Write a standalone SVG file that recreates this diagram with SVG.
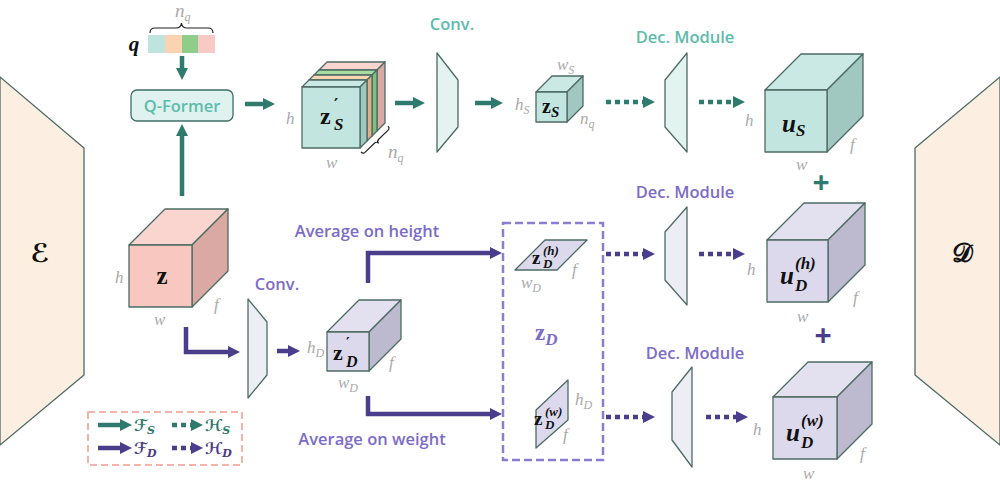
<svg xmlns="http://www.w3.org/2000/svg" width="1000" height="482" viewBox="0 0 1000 482">
<defs>
<marker id="ht" markerUnits="userSpaceOnUse" markerWidth="12" markerHeight="12" refX="2" refY="6" orient="auto"><path d="M0,0 L12,6 L0,12 z" fill="#2f7a6e"/></marker>
<marker id="hp" markerUnits="userSpaceOnUse" markerWidth="12" markerHeight="12" refX="2" refY="6" orient="auto"><path d="M0,0 L12,6 L0,12 z" fill="#4a3d8c"/></marker>
</defs>
<style>
.ts{stroke:#2f7a6e;stroke-width:4.5;fill:none;marker-end:url(#ht)}
.td{stroke:#2f7a6e;stroke-width:4.5;fill:none;stroke-dasharray:5 4;marker-end:url(#ht)}
.ps{stroke:#4a3d8c;stroke-width:4.5;fill:none;marker-end:url(#hp)}
.pd{stroke:#4a3d8c;stroke-width:4.5;fill:none;stroke-dasharray:5 4;marker-end:url(#hp)}
.edge{stroke:#4d6b63;stroke-width:1.3;stroke-linejoin:round}
.tmod{fill:#e3f3f0}
.pmod{fill:#ededf5}
.coder{fill:#fdeee2}
.tf{fill:#c2e5e0}.tt{fill:#cae9e4}.tr{fill:#a0c8c0}
.pf{fill:#dcd9ec}.pt{fill:#e3e1f0}.pr{fill:#bdbacf}
.kf{fill:#f8c8c0}.kt{fill:#fad4ce}.kr{fill:#dba9a3}
.gl{font-family:"Liberation Serif",serif;font-style:italic;fill:#aaaaaa;font-size:17px}
.gs{font-size:12px}
.mth{font-family:"Liberation Serif",serif;font-weight:bold;fill:#111}
.pr1{font-family:"DejaVu Sans",sans-serif;font-weight:bold;fill:#111}
.lt{font-family:"Open Sans",sans-serif;font-weight:600;font-size:16.5px;fill:#5dbcac;text-anchor:middle}
.lp{font-family:"Open Sans",sans-serif;font-weight:600;font-size:16.5px;fill:#7b6cc8;text-anchor:middle}
.scr{font-family:"DejaVu Serif","DejaVu Sans",serif;font-style:italic;font-weight:bold;font-size:16px}
</style>

<g id="encoder">
<polygon class="coder edge" points="0,77 84,148 84,375 0,445"/>
<text x="40" y="262" class="scr" style="font-size:26px;font-style:normal" text-anchor="middle" fill="#111">ℰ</text>
</g>
<g id="decoder">
<polygon class="coder edge" points="1000,77 915,148 915,375 1000,445"/>
<text x="962" y="262" class="scr" style="font-size:26px;font-style:normal" text-anchor="middle" fill="#111">𝒟</text>
</g>

<g id="query">
<text x="134" y="51" class="mth" style="font-style:italic;font-size:21px" text-anchor="middle">q</text>
<rect x="148" y="35" width="17" height="18" fill="#bfe3de"/>
<rect x="165" y="35" width="17" height="18" fill="#fbd3b0"/>
<rect x="182" y="35" width="16" height="18" fill="#8fce8a"/>
<rect x="198" y="35" width="17" height="18" fill="#f9c9c6"/>
<path d="M150,33 Q150,28 155,28 L176,28 Q181,28 181.5,23 Q182,28 187,28 L208,28 Q213,28 213,33" fill="none" stroke="#222" stroke-width="1.2"/>
<text x="175" y="17" class="gl" style="font-size:19px">n<tspan class="gs" dy="4">q</tspan></text>
</g>

<g id="qformer">
<rect x="131" y="90" width="102" height="31" rx="6" fill="#e0f2ef" stroke="#3f6e66" stroke-width="1.3"/>
<text x="182" y="111.5" class="lt">Q-Former</text>
</g>

<g id="zS_prime">
<g class="edge">
<polygon class="kt" points="319,70 327,62 385,62 377,70"/><polygon class="kr" points="377,70 385,62 385,123 377,131"/>
<polygon fill="#a8dca2" points="314,75 319,70 377,70 372,75"/><polygon fill="#7fc07a" points="372,75 377,70 377,131 372,136"/>
<polygon fill="#f8d5b2" points="309,80 314,75 372,75 367,80"/><polygon fill="#ddb18b" points="367,80 372,75 372,136 367,141"/>
<polygon class="tt" points="302,87 309,80 367,80 360,87"/><polygon class="tr" points="360,87 367,80 367,141 360,148"/>
<rect class="tf" x="302" y="87" width="58" height="61"/>
</g>
<text x="320" y="124" class="mth" style="font-size:24px">z</text>
<text x="334" y="110" class="pr1" style="font-size:16px">′</text>
<text x="334" y="130" class="mth" style="font-size:17px;font-style:italic">S</text>
<text x="286" y="124" class="gl">h</text>
<text x="326" y="168" class="gl">w</text>
<path d="M361,152 Q363.1,154.2 365.2,152.1 L374.4,143.3 Q376.6,141.2 378.6,143.4 Q376.6,141.2 378.7,139.2 L387.9,130.4 Q390.1,128.3 388,126.1" fill="none" stroke="#222" stroke-width="1.2"/>
<text x="388" y="158" class="gl" style="font-size:19px">n<tspan class="gs" dy="4">q</tspan></text>
</g>

<g id="conv_top">
<polygon class="tmod edge" points="437,53 458,80 458,127 437,152"/>
<text x="452" y="30" class="lt">Conv.</text>
</g>

<g id="zS">
<g class="edge">
<polygon class="tt" points="536,92 552,76 583,76 567,92"/><polygon class="tr" points="567,92 583,76 583,106 567,122"/>
<rect class="tf" x="536" y="92" width="31" height="30"/>
</g>
<text x="542" y="113" class="mth" style="font-size:20px">z<tspan font-size="15" font-style="italic" dy="4">S</tspan></text>
<text x="515" y="110" class="gl">h<tspan class="gs" dy="4">S</tspan></text>
<text x="557" y="70" class="gl">w<tspan class="gs" dy="4">S</tspan></text>
<text x="580" y="124" class="gl">n<tspan class="gs" dy="4">q</tspan></text>
</g>

<g id="dec_top">
<polygon class="tmod edge" points="665,80 687,53 687,152 665,127"/>
<text x="685" y="43" class="lt">Dec. Module</text>
</g>

<g id="uS">
<g class="edge">
<polygon class="tt" points="765,90 801,54 863,54 827,90"/><polygon class="tr" points="827,90 863,54 863,116 827,152"/>
<rect class="tf" x="765" y="90" width="62" height="62"/>
</g>
<text x="782" y="132" class="mth" style="font-size:25px;font-style:italic">u<tspan font-size="17" dy="4">S</tspan></text>
<text x="745" y="126" class="gl">h</text>
<text x="796" y="170" class="gl">w</text>
<text x="850" y="150" class="gl">f</text>
</g>

<g id="plus1"><text x="821" y="193" text-anchor="middle" font-family="Open Sans,sans-serif" font-weight="700" font-size="30" fill="#2f7a6e">+</text></g>

<g id="z">
<g class="edge">
<polygon class="kt" points="129,245 165,209 228,209 192,245"/><polygon class="kr" points="192,245 228,209 228,271 192,307"/>
<rect class="kf" x="129" y="245" width="63" height="62"/>
</g>
<text x="162" y="284" class="mth" style="font-size:25px" text-anchor="middle">z</text>
<text x="115" y="283" class="gl">h</text>
<text x="154" y="325" class="gl">w</text>
<text x="214" y="310" class="gl">f</text>
</g>

<g id="conv_bottom">
<polygon class="pmod edge" points="248,299 267,322 267,375 248,398"/>
<text x="277" y="290" class="lp">Conv.</text>
</g>

<g id="zD_prime">
<g class="edge">
<polygon class="pt" points="327,332 359,300 401,300 369,332"/><polygon class="pr" points="369,332 401,300 401,339 369,371"/>
<rect class="pf" x="327" y="332" width="42" height="39"/>
</g>
<text x="333" y="360" class="mth" style="font-size:22px">z</text>
<text x="346" y="347" class="pr1" style="font-size:14px">′</text>
<text x="346" y="367" class="mth" style="font-size:16px;font-style:italic">D</text>
<text x="307" y="353" class="gl">h<tspan class="gs" dy="4">D</tspan></text>
<text x="338" y="388" class="gl">w<tspan class="gs" dy="4">D</tspan></text>
<text x="389" y="368" class="gl">f</text>
</g>

<text x="367" y="237" class="lp">Average on height</text>
<text x="372" y="445" class="lp">Average on weight</text>

<g id="zD">
<rect x="503" y="223" width="100" height="237" fill="none" stroke="#8c7dd0" stroke-width="2.5" stroke-dasharray="8 4"/>
<text x="535" y="340" font-family="Liberation Serif,serif" font-weight="bold" font-size="23" fill="#7b6cc8">z<tspan font-size="17" font-style="italic" dy="5">D</tspan></text>
</g>

<g id="zD_h">
<polygon class="pf edge" points="515,270 557,270 587,240 545,240"/>
<text x="532" y="264" class="mth" style="font-size:19px">z</text>
<text x="543" y="268" class="mth" style="font-size:13px;font-style:italic">D</text>
<text x="543" y="255" class="mth" style="font-size:13px;font-style:italic">(h)</text>
<text x="521" y="288" class="gl">w<tspan class="gs" dy="4">D</tspan></text>
<text x="572" y="275" class="gl">f</text>
</g>

<g id="zD_w">
<polygon class="pf edge" points="536,410 568,380 568,420 536,448"/>
<text x="534" y="425" class="mth" style="font-size:19px">z</text>
<text x="545" y="429" class="mth" style="font-size:13px;font-style:italic">D</text>
<text x="545" y="416" class="mth" style="font-size:13px;font-style:italic">(w)</text>
<text x="575" y="405" class="gl">h<tspan class="gs" dy="4">D</tspan></text>
<text x="563" y="440" class="gl">f</text>
</g>

<g id="dec_mid">
<polygon class="pmod edge" points="665,232 687,207 687,305 665,280"/>
<text x="685" y="198" class="lp">Dec. Module</text>
</g>

<g id="dec_bottom">
<polygon class="pmod edge" points="672,392 692,367 692,467 672,440"/>
<text x="695" y="359" class="lp">Dec. Module</text>
</g>

<g id="uD_h">
<g class="edge">
<polygon class="pt" points="767,240 804,203 865,203 828,240"/><polygon class="pr" points="828,240 865,203 865,265 828,302"/>
<rect class="pf" x="767" y="240" width="61" height="62"/>
</g>
<text x="780" y="284" class="mth" style="font-size:25px;font-style:italic">u</text>
<text x="795" y="291" class="mth" style="font-size:17px;font-style:italic">D</text>
<text x="795" y="269" class="mth" style="font-size:17px;font-style:italic">(h)</text>
<text x="747" y="275" class="gl">h</text>
<text x="797" y="322" class="gl">w</text>
<text x="853" y="303" class="gl">f</text>
</g>

<g id="plus2"><text x="823" y="346" text-anchor="middle" font-family="Open Sans,sans-serif" font-weight="700" font-size="30" fill="#4a3d8c">+</text></g>

<g id="uD_w">
<g class="edge">
<polygon class="pt" points="773,397 808,362 872,362 837,397"/><polygon class="pr" points="837,397 872,362 872,424 837,459"/>
<rect class="pf" x="773" y="397" width="64" height="62"/>
</g>
<text x="786" y="441" class="mth" style="font-size:25px;font-style:italic">u</text>
<text x="801" y="448" class="mth" style="font-size:17px;font-style:italic">D</text>
<text x="801" y="426" class="mth" style="font-size:17px;font-style:italic">(w)</text>
<text x="753" y="435" class="gl">h</text>
<text x="803" y="479" class="gl">w</text>
<text x="860" y="459" class="gl">f</text>
</g>

<g id="legend">
<rect x="88" y="412" width="154" height="53" fill="none" stroke="#f4b4ac" stroke-width="2" stroke-dasharray="7 4"/>
<line class="ts" x1="98" y1="425" x2="122" y2="425"/>
<text x="134" y="431" class="scr" fill="#2f7a6e">ℱ<tspan font-size="11" dy="3">S</tspan></text>
<line class="td" x1="172" y1="425" x2="193" y2="425"/>
<text x="205" y="431" class="scr" fill="#2f7a6e">ℋ<tspan font-size="11" dy="3">S</tspan></text>
<line class="ps" x1="98" y1="448" x2="122" y2="448"/>
<text x="134" y="454" class="scr" fill="#4a3d8c">ℱ<tspan font-size="11" dy="3">D</tspan></text>
<line class="pd" x1="172" y1="448" x2="193" y2="448"/>
<text x="205" y="454" class="scr" fill="#4a3d8c">ℋ<tspan font-size="11" dy="3">D</tspan></text>
</g>

<g id="connectors">
<line class="ts" x1="182" y1="56" x2="182" y2="70"/>
<line class="ts" x1="182" y1="196" x2="182" y2="134"/>
<line class="ts" x1="245" y1="104" x2="265" y2="104"/>
<line class="ts" x1="395" y1="103" x2="415" y2="103"/>
<line class="ts" x1="475" y1="103" x2="493" y2="103"/>
<line class="td" x1="606" y1="102" x2="645" y2="102"/>
<line class="td" x1="699" y1="102" x2="735" y2="102"/>
<path class="ps" d="M186,327 L186,352 L230,352"/>
<line class="ps" x1="277" y1="351" x2="290" y2="351"/>
<path class="ps" d="M368,283 L368,253 L492,253"/>
<path class="ps" d="M368,396 L368,414 L492,414"/>
<line class="pd" x1="606" y1="254" x2="645" y2="254"/>
<line class="pd" x1="699" y1="254" x2="735" y2="254"/>
<line class="pd" x1="606" y1="417" x2="645" y2="417"/>
<line class="pd" x1="706" y1="417" x2="738" y2="417"/>
</g>
</svg>
